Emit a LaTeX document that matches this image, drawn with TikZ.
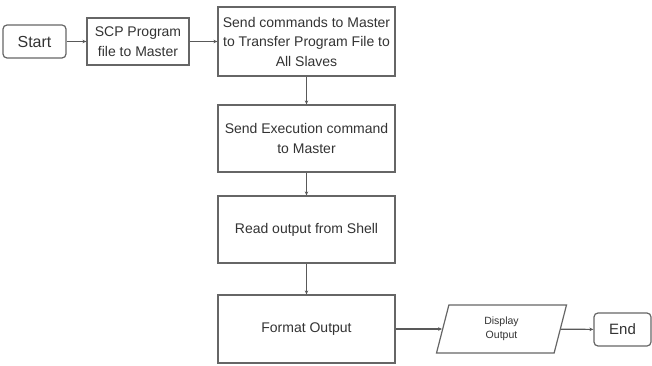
\documentclass[tikz,border=0pt]{standalone}
\usepackage{fontspec}
\setmainfont{Liberation Sans}
\usetikzlibrary{arrows.meta, shapes.geometric}

\begin{document}
\begin{tikzpicture}[>={Stealth[length=4pt,width=3.5pt]},x=1pt,y=-1pt,
	box/.style={draw=black!60,line width=1.2pt,fill=white,text=black!80,align=center,inner sep=2pt,
		font=\fontsize{14}{19.5}\selectfont},
	term/.style={box,rounded corners=4pt,font=\fontsize{16}{19}\selectfont},
	flow/.style={->,draw=black!65,line width=1.2pt}]
	\useasboundingbox (0,0) rectangle (652,366);
	% Boxes
	\node[term,minimum width=63pt,minimum height=33pt] (start) at (34.5,41.5) {Start};
	\node[box,minimum width=102pt,minimum height=47pt] (scp) at (138,41.5) {SCP Program\\file to Master};
	\node[box,minimum width=177pt,minimum height=69pt] (send) at (306.5,41.5) {Send commands to Master\\to Transfer Program File to\\All Slaves};
	\node[box,minimum width=177pt,minimum height=67pt] (exec) at (306.5,138.5) {Send Execution command\\to Master};
	\node[box,minimum width=177pt,minimum height=67pt] (read) at (306.5,229.5) {Read output from Shell};
	\node[box,minimum width=177pt,minimum height=68pt] (fmt) at (306.5,329) {Format Output};
	\node[box,trapezium,trapezium left angle=66,trapezium right angle=114,trapezium stretches body,
		minimum width=130pt,minimum height=48pt,font=\fontsize{10.5}{14}\selectfont] (disp) at (501.5,329) {Display\\Output};
	\node[term,minimum width=57pt,minimum height=33pt,font=\fontsize{15}{19}\selectfont] (end) at (622.5,329.5) {End};
	% Arrows
	\draw[flow] (start) -- (scp);
	\draw[flow] (scp) -- (send);
	\draw[flow] (send) -- (exec);
	\draw[flow] (exec) -- (read);
	\draw[flow] (read) -- (fmt);
	\draw[flow] (fmt) -- (disp);
	\draw[flow] (disp) -- (end);
\end{tikzpicture}
\end{document}
